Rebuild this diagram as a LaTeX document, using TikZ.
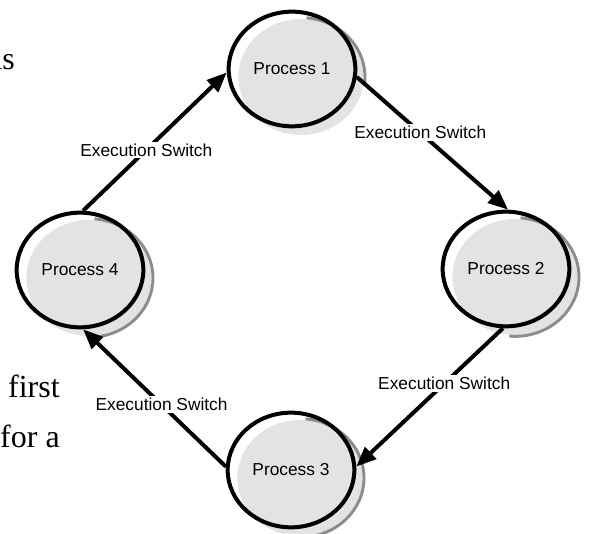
\documentclass[tikz,border=0pt]{standalone}
\usepackage{fontspec}
\setmainfont{Liberation Serif}
\newfontfamily\arialfont{Liberation Sans}
\usetikzlibrary{arrows.meta, shapes.geometric}
\definecolor{proc_fill}{RGB}{227, 227, 227}
\definecolor{proc_shadow}{RGB}{140, 140, 140}

\begin{document}
\begin{tikzpicture}[
    x=0.75pt, y=-0.75pt,
    proc/.style={ellipse, draw, line width=3pt,
                 minimum width=95pt, minimum height=86pt, inner sep=0pt,
                 font=\arialfont\fontsize{13}{15}\selectfont},
    sw/.style={fill=white, inner sep=1.5pt,
               font=\arialfont\fontsize{13}{15}\selectfont},
    arr/.style={-{Triangle[length=15pt, width=12pt]}, line width=3pt},
    body/.style={font=\fontsize{24}{28}\selectfont, inner sep=0pt, anchor=base east},
  ]
  \useasboundingbox (0,0) rectangle (590,534);

  % grey backs of the process circles
  \foreach \x/\y/\e in {292/69/-5, 506/269/-95, 291/470/-95, 80/270/-85}{
    \fill[proc_fill] (\x+9,\y+8) ellipse [x radius=47pt, y radius=43.5pt];
    \draw[proc_shadow, line width=2.2pt]
      ([shift={(\x+9,\y+8)}] 85:48pt and 44.5pt)
      arc [start angle=85, end angle=\e, x radius=48pt, y radius=44.5pt];
  }

  \node[proc] (p1) at (292,69)  {Process 1};
  \node[proc] (p2) at (506,269) {Process 2};
  \node[proc] (p3) at (291,470) {Process 3};
  \node[proc] (p4) at (80,270)  {Process 4};

  \draw[arr] (p4.87)  -- node[sw, pos=0.44]{Execution Switch} (p1.183);
  \draw[arr] (p1.-7)  -- node[sw, pos=0.42]{Execution Switch} (p2.88);
  \draw[arr] (p2.267) -- node[sw, pos=0.40]{Execution Switch} (p3.3);
  \draw[arr] (p3.177) -- node[sw, pos=0.45]{Execution Switch} (p4.273);

  % bits of the surrounding text
  \node[body] (as)    at (15,70)  {as};
  \node[body] (first) at (60,398) {first};
  \node[body] (fora)  at (60,448) {for a};
\end{tikzpicture}
\end{document}
